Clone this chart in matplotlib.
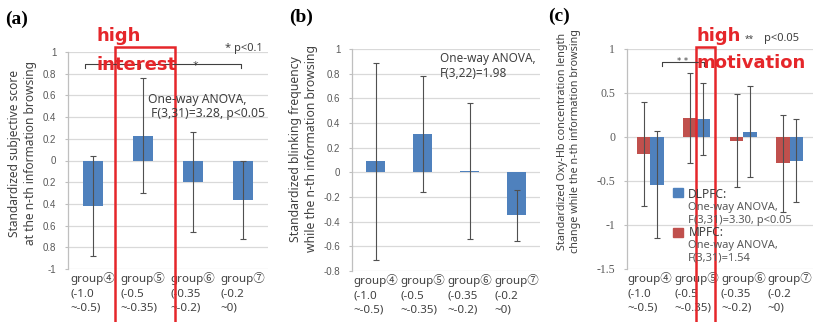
import matplotlib
matplotlib.use("Agg")
import matplotlib.pyplot as plt
from matplotlib.patches import Rectangle
from matplotlib.lines import Line2D

# ---- data -------------------------------------------------------------
groups = ["group④\n(-1.0\n~-0.5)", "group⑤\n(-0.5\n~-0.35)",
          "group⑥\n(-0.35\n~-0.2)", "group⑦\n(-0.2\n~0)"]

# (a) standardized subjective score
score_mean = [-0.42, 0.23, -0.20, -0.36]
score_err = [0.46, 0.53, 0.46, 0.36]

# (b) standardized blinking frequency
blink_mean = [0.09, 0.31, 0.01, -0.35]
blink_err = [0.80, 0.47, 0.55, 0.21]

# (c) standardized Oxy-Hb concentration length change
mpfc_mean = [-0.19, 0.22, -0.04, -0.30]
mpfc_err = [0.59, 0.51, 0.53, 0.55]
dlpfc_mean = [-0.54, 0.20, 0.06, -0.27]
dlpfc_err = [0.61, 0.41, 0.52, 0.47]

a_ticks = [-1, -0.8, -0.6, -0.4, -0.2, 0, 0.2, 0.4, 0.6, 0.8, 1]
a_ticklabels = ["-1", "0.8", "0.6", "0.4", "0.2", "0", "0.2", "0.4", "0.6", "0.8", "1"]
b_ticks = [-0.8, -0.6, -0.4, -0.2, 0, 0.2, 0.4, 0.6, 0.8, 1]
b_ticklabels = ["-0.8", "-0.6", "-0.4", "-0.2", "0", "0.2", "0.4", "0.6", "0.8", "1"]
c_ticks = [-1.5, -1, -0.5, 0, 0.5, 1]
c_ticklabels = ["-1.5", "-1", "-0.5", "0", "0.5", "1"]

# ---- styling ----------------------------------------------------------
W, H = 832, 322
BLUE = "#4F81BD"
RED = "#C0504D"
HILITE = "#E5262A"
GRID = "#D9D9D9"
TICKC = "#595959"
TEXTC = "#404040"
SANS = ["Noto Sans", "Noto Sans CJK JP", "DejaVu Sans"]

fig = plt.figure(figsize=(W / 100, H / 100), dpi=100)
fig.patch.set_facecolor("white")


def axes_px(left, top, right, bottom):
    return fig.add_axes([left / W, 1 - bottom / H, (right - left) / W, (bottom - top) / H])


def fx(x):
    return x / W


def fy(y):
    return 1 - y / H


def style_axes(ax, ticks, ticklabels, ylim, tick_font, tick_size):
    ax.set_xlim(-0.5, 3.5)
    ax.set_ylim(*ylim)
    ax.set_yticks(ticks)
    ax.set_yticklabels(ticklabels, fontsize=tick_size, color=TICKC, family=tick_font)
    ax.yaxis.grid(True, color=GRID, lw=0.9)
    ax.set_axisbelow(True)
    for s in ("top", "right", "bottom"):
        ax.spines[s].set_visible(False)
    ax.spines["left"].set_color("#BFBFBF")
    ax.spines["left"].set_linewidth(0.9)
    ax.tick_params(axis="y", length=2.5, color="#BFBFBF", pad=6)
    ax.set_xticks(range(len(groups)))
    ax.set_xticklabels(groups, fontsize=8.3, color=TEXTC, family=SANS, linespacing=1.45)
    for lbl in ax.get_xticklabels():
        lbl.set_multialignment("left")
    ax.tick_params(axis="x", length=0, pad=2)


err_kw = dict(ecolor="#505050", elinewidth=0.8, capsize=2.5, capthick=0.8)

# ---- (a) ---------------------------------------------------------------
axa = axes_px(68, 52, 268, 269)
xs = list(range(len(groups)))
axa.bar(xs, score_mean, width=0.4, color=BLUE, yerr=score_err, error_kw=err_kw)
style_axes(axa, a_ticks, a_ticklabels, (-1, 1), "Liberation Sans", 7)

# ---- (b) ---------------------------------------------------------------
axb = axes_px(352, 49, 540, 271)
axb.bar(xs, blink_mean, width=0.4, color=BLUE, yerr=blink_err, error_kw=err_kw)
style_axes(axb, b_ticks, b_ticklabels, (-0.8, 1), "Liberation Sans", 7)

# ---- (c) ---------------------------------------------------------------
axc = axes_px(627, 49, 813, 269)
w = 0.286
axc.bar([x - w / 2 for x in xs], mpfc_mean, width=w, color=RED, yerr=mpfc_err, error_kw=err_kw)
axc.bar([x + w / 2 for x in xs], dlpfc_mean, width=w, color=BLUE, yerr=dlpfc_err, error_kw=err_kw)
style_axes(axc, c_ticks, c_ticklabels, (-1.5, 1), "Liberation Serif", 8.5)

# ---- panel letters -------------------------------------------------------
for x, y, s in [(5, 24, "(a)"), (289, 22, "(b)"), (548, 21, "(c)")]:
    fig.text(fx(x), fy(y), s, fontsize=14, fontweight="bold", family="Liberation Serif",
             ha="left", va="baseline")

# ---- y-axis titles -------------------------------------------------------
ytitles = [
    (22.5, 153, 8.6, "Standardized subjective score\nat the n-th information browsing"),
    (303.5, 149, 8.8, "Standardized blinking frequency\nwhile the n-th information browsing"),
    (569, 141, 7.8, "Standardized Oxy-Hb concentration length\nchange while the n-th information browsing"),
]
for x, y, size, s in ytitles:
    fig.text(fx(x), fy(y), s, rotation=90, ha="center", va="center", fontsize=size,
             color=TEXTC, family=SANS, linespacing=1.35)

# ---- ANOVA notes -------------------------------------------------------
fig.text(fx(148), fy(106), "One-way ANOVA,\n F(3,31)=3.28, p<0.05", fontsize=8.8, color=TEXTC,
         family=SANS, va="center", ha="left", linespacing=1.1)
fig.text(fx(440), fy(66), "One-way ANOVA,\nF(3,22)=1.98", fontsize=8.5, color=TEXTC,
         family=SANS, va="center", ha="left", linespacing=1.15)
fig.text(fx(225), fy(48), "* p<0.1", fontsize=8, color=TEXTC, family=SANS, va="center", ha="left")
fig.text(fx(745), fy(39), "**", fontsize=6, color=TEXTC, family=SANS, va="center", ha="left")
fig.text(fx(764), fy(39), "p<0.05", fontsize=8, color=TEXTC, family=SANS, va="center", ha="left")


# ---- significance brackets ----------------------------------------------
def bracket(x0, x1, y, drop=4):
    fig.add_artist(Line2D([fx(x0), fx(x0), fx(x1), fx(x1)],
                          [fy(y + drop), fy(y), fy(y), fy(y + drop)],
                          color="#404040", lw=0.8, transform=fig.transFigure))


bracket(85, 140, 64)
bracket(147, 241, 64)
fig.text(fx(195), fy(66), "*", fontsize=8, color=TEXTC, ha="center", va="center")
bracket(662, 704, 62)
fig.text(fx(683), fy(61), "* *", fontsize=6, color=TEXTC, ha="center", va="center")

# ---- (c) legend ---------------------------------------------------------
fig.add_artist(Rectangle((fx(673), fy(197)), 10 / W, 9 / H, color=BLUE, transform=fig.transFigure))
fig.add_artist(Rectangle((fx(673), fy(237)), 10 / W, 9 / H, color=RED, transform=fig.transFigure))
fig.text(fx(688), fy(194), "DLPFC:", fontsize=8.6, color=TEXTC, family=SANS, va="center")
fig.text(fx(688), fy(214), "One-way ANOVA,\nF(3,31)=3.30, p<0.05", fontsize=8.0, color=TICKC,
         family=SANS, va="center", linespacing=1.15)
fig.text(fx(689), fy(233), "MPFC:", fontsize=8.6, color=TEXTC, family=SANS, va="center")
fig.text(fx(688), fy(252), "One-way ANOVA,\nF(3,31)=1.54", fontsize=8.0, color=TICKC,
         family=SANS, va="center", linespacing=1.15)

# ---- highlighted groups -------------------------------------------------
for x0, x1 in [(114.5, 175), (696, 715)]:
    fig.add_artist(Rectangle((fx(x0), fy(H + 2)), (x1 - x0) / W, (H + 2 - 47) / H, fill=False,
                             ec=HILITE, lw=1.8, transform=fig.transFigure))
for x, y, s in [(97, 41, "high"), (97, 70, "interest"), (696, 41, "high"), (696, 68, "motivation")]:
    fig.text(fx(x), fy(y), s, fontsize=13, fontweight="bold", color=HILITE,
             family="DejaVu Sans", ha="left", va="baseline")

fig.savefig("out.png", dpi=100, facecolor="white")
